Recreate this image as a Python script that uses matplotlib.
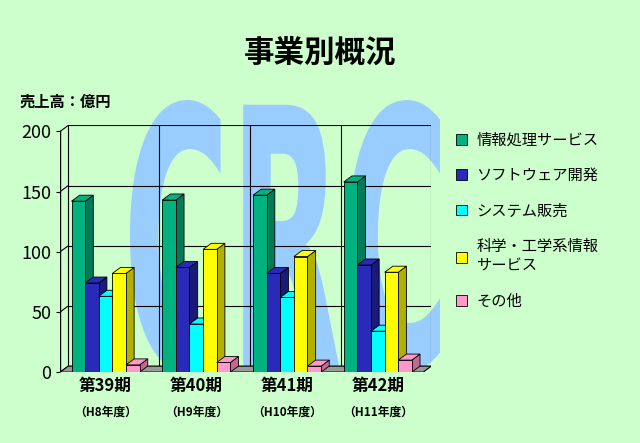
import matplotlib.pyplot as plt
from matplotlib.patches import Polygon, PathPatch
from matplotlib.textpath import TextPath
from matplotlib.font_manager import FontProperties
from matplotlib.transforms import Affine2D
import numpy as np

plt.rcParams['font.family'] = 'Noto Sans CJK JP'

#--- data
periods = ['第39期', '第40期', '第41期', '第42期']
years = ['（H8年度）', '（H9年度）', '（H10年度）', '（H11年度）']
series = ['情報処理サービス', 'ソフトウェア開発', 'システム販売', '科学・工学系情報\nサービス', 'その他']
info_service = [142, 143, 147, 158]
software = [74, 87, 82, 89]
system_sales = [63, 40, 62, 34]
science = [82, 102, 96, 83]
other = [6, 8, 5, 10]
values = [info_service, software, system_sales, science, other]
colors = ['#00b27f', '#2a2ab8', '#00ffff', '#ffff00', '#ff99cc']
side_colors = ['#007a57', '#1a1a78', '#00b0b0', '#b0b000', '#c06a90']

bg = '#ccffcc'
fig = plt.figure(figsize=(6.4, 4.43), dpi=100, facecolor=bg)

# watermark (behind the axes), stretched tall letters
wm = fig.add_axes([0, 0, 1, 1], zorder=0)
wm.set_axis_off()
wm.set_xlim(0, 640)
wm.set_ylim(443, 0)
tp = TextPath((0, 0), 'CRC', size=1, prop=FontProperties(family='DejaVu Sans', weight='bold'))
bb = tp.get_extents()
tr = (Affine2D().translate(-bb.x0, -bb.y0)
      .scale(310 / bb.width, -272 / bb.height).translate(130, 372))
wm.add_patch(PathPatch(tr.transform_path(tp), facecolor='#99ccff', edgecolor='none'))

ax = fig.add_axes([0.094, 0.16, 0.58, 0.557], zorder=1)
ax.set_facecolor('none')

dx, dy = 0.09, 5
ax.set_xlim(-0.5, 3.5 + dx)
ax.set_ylim(0, 200 + dy)

# back wall grid
for v in [0, 50, 100, 150, 200]:
    ax.plot([-0.5 + dx, 3.5 + dx], [v + dy, v + dy], color='black', lw=0.8, zorder=1)
    ax.plot([-0.5, -0.5 + dx], [v, v + dy], color='black', lw=0.8, zorder=1)
for x in [0.5, 1.5, 2.5, 3.5]:
    ax.plot([x + dx, x + dx], [dy, 200 + dy], color='black', lw=0.8, zorder=1)
ax.plot([-0.5 + dx, -0.5 + dx], [dy, 200 + dy], color='black', lw=0.8, zorder=1)
ax.plot([-0.5, -0.5], [0, 200], color='black', lw=1, zorder=1)
# floor
ax.add_patch(Polygon([[-0.5, 0], [3.5, 0], [3.5 + dx, dy], [-0.5 + dx, dy]],
                     closed=True, facecolor='#999999', edgecolor='black', lw=0.8, zorder=1))

w = 0.15
x = np.arange(len(periods))
for i, (vals, c, sc) in enumerate(zip(values, colors, side_colors)):
    xs = x - 2 * w + i * w
    for xc, v in zip(xs, vals):
        l, r = xc - w / 2, xc + w / 2
        ax.add_patch(Polygon([[r, 0], [r + dx, dy], [r + dx, v + dy], [r, v]],
                             closed=True, facecolor=sc, edgecolor='black', lw=0.6, zorder=2 + i))
        ax.add_patch(Polygon([[l, v], [l + dx, v + dy], [r + dx, v + dy], [r, v]],
                             closed=True, facecolor=c, edgecolor='black', lw=0.6, zorder=2 + i))
    ax.bar(xs, vals, width=w, color=c, edgecolor='black', lw=0.6, zorder=2 + i, label=series[i])

for s in ax.spines.values():
    s.set_visible(False)
ax.set_xticks(x)
ax.set_xticklabels([])
ax.tick_params(axis='x', length=0)
ax.set_yticks([0, 50, 100, 150, 200])
ax.tick_params(axis='y', labelsize=13, length=3)
for xi, p, yr in zip(x, periods, years):
    ax.text(xi, -4, p, ha='center', va='top', fontsize=12, fontweight='bold')
    ax.text(xi, -28, yr, ha='center', va='top', fontsize=8.5, fontweight='bold')

fig.text(0.5, 0.88, '事業別概況', ha='center', va='center', fontsize=22, fontweight='bold')
fig.text(0.03, 0.77, '売上高：億円', ha='left', va='center', fontsize=11, fontweight='bold')

leg = ax.legend(loc='upper left', bbox_to_anchor=(1.03, 1.03), frameon=False,
                fontsize=11, handlelength=0.7, handleheight=0.7, labelspacing=1.2,
                handletextpad=0.6)
for h in leg.legend_handles:
    h.set_edgecolor('black')

fig.savefig('out.png', dpi=100, facecolor=bg)
